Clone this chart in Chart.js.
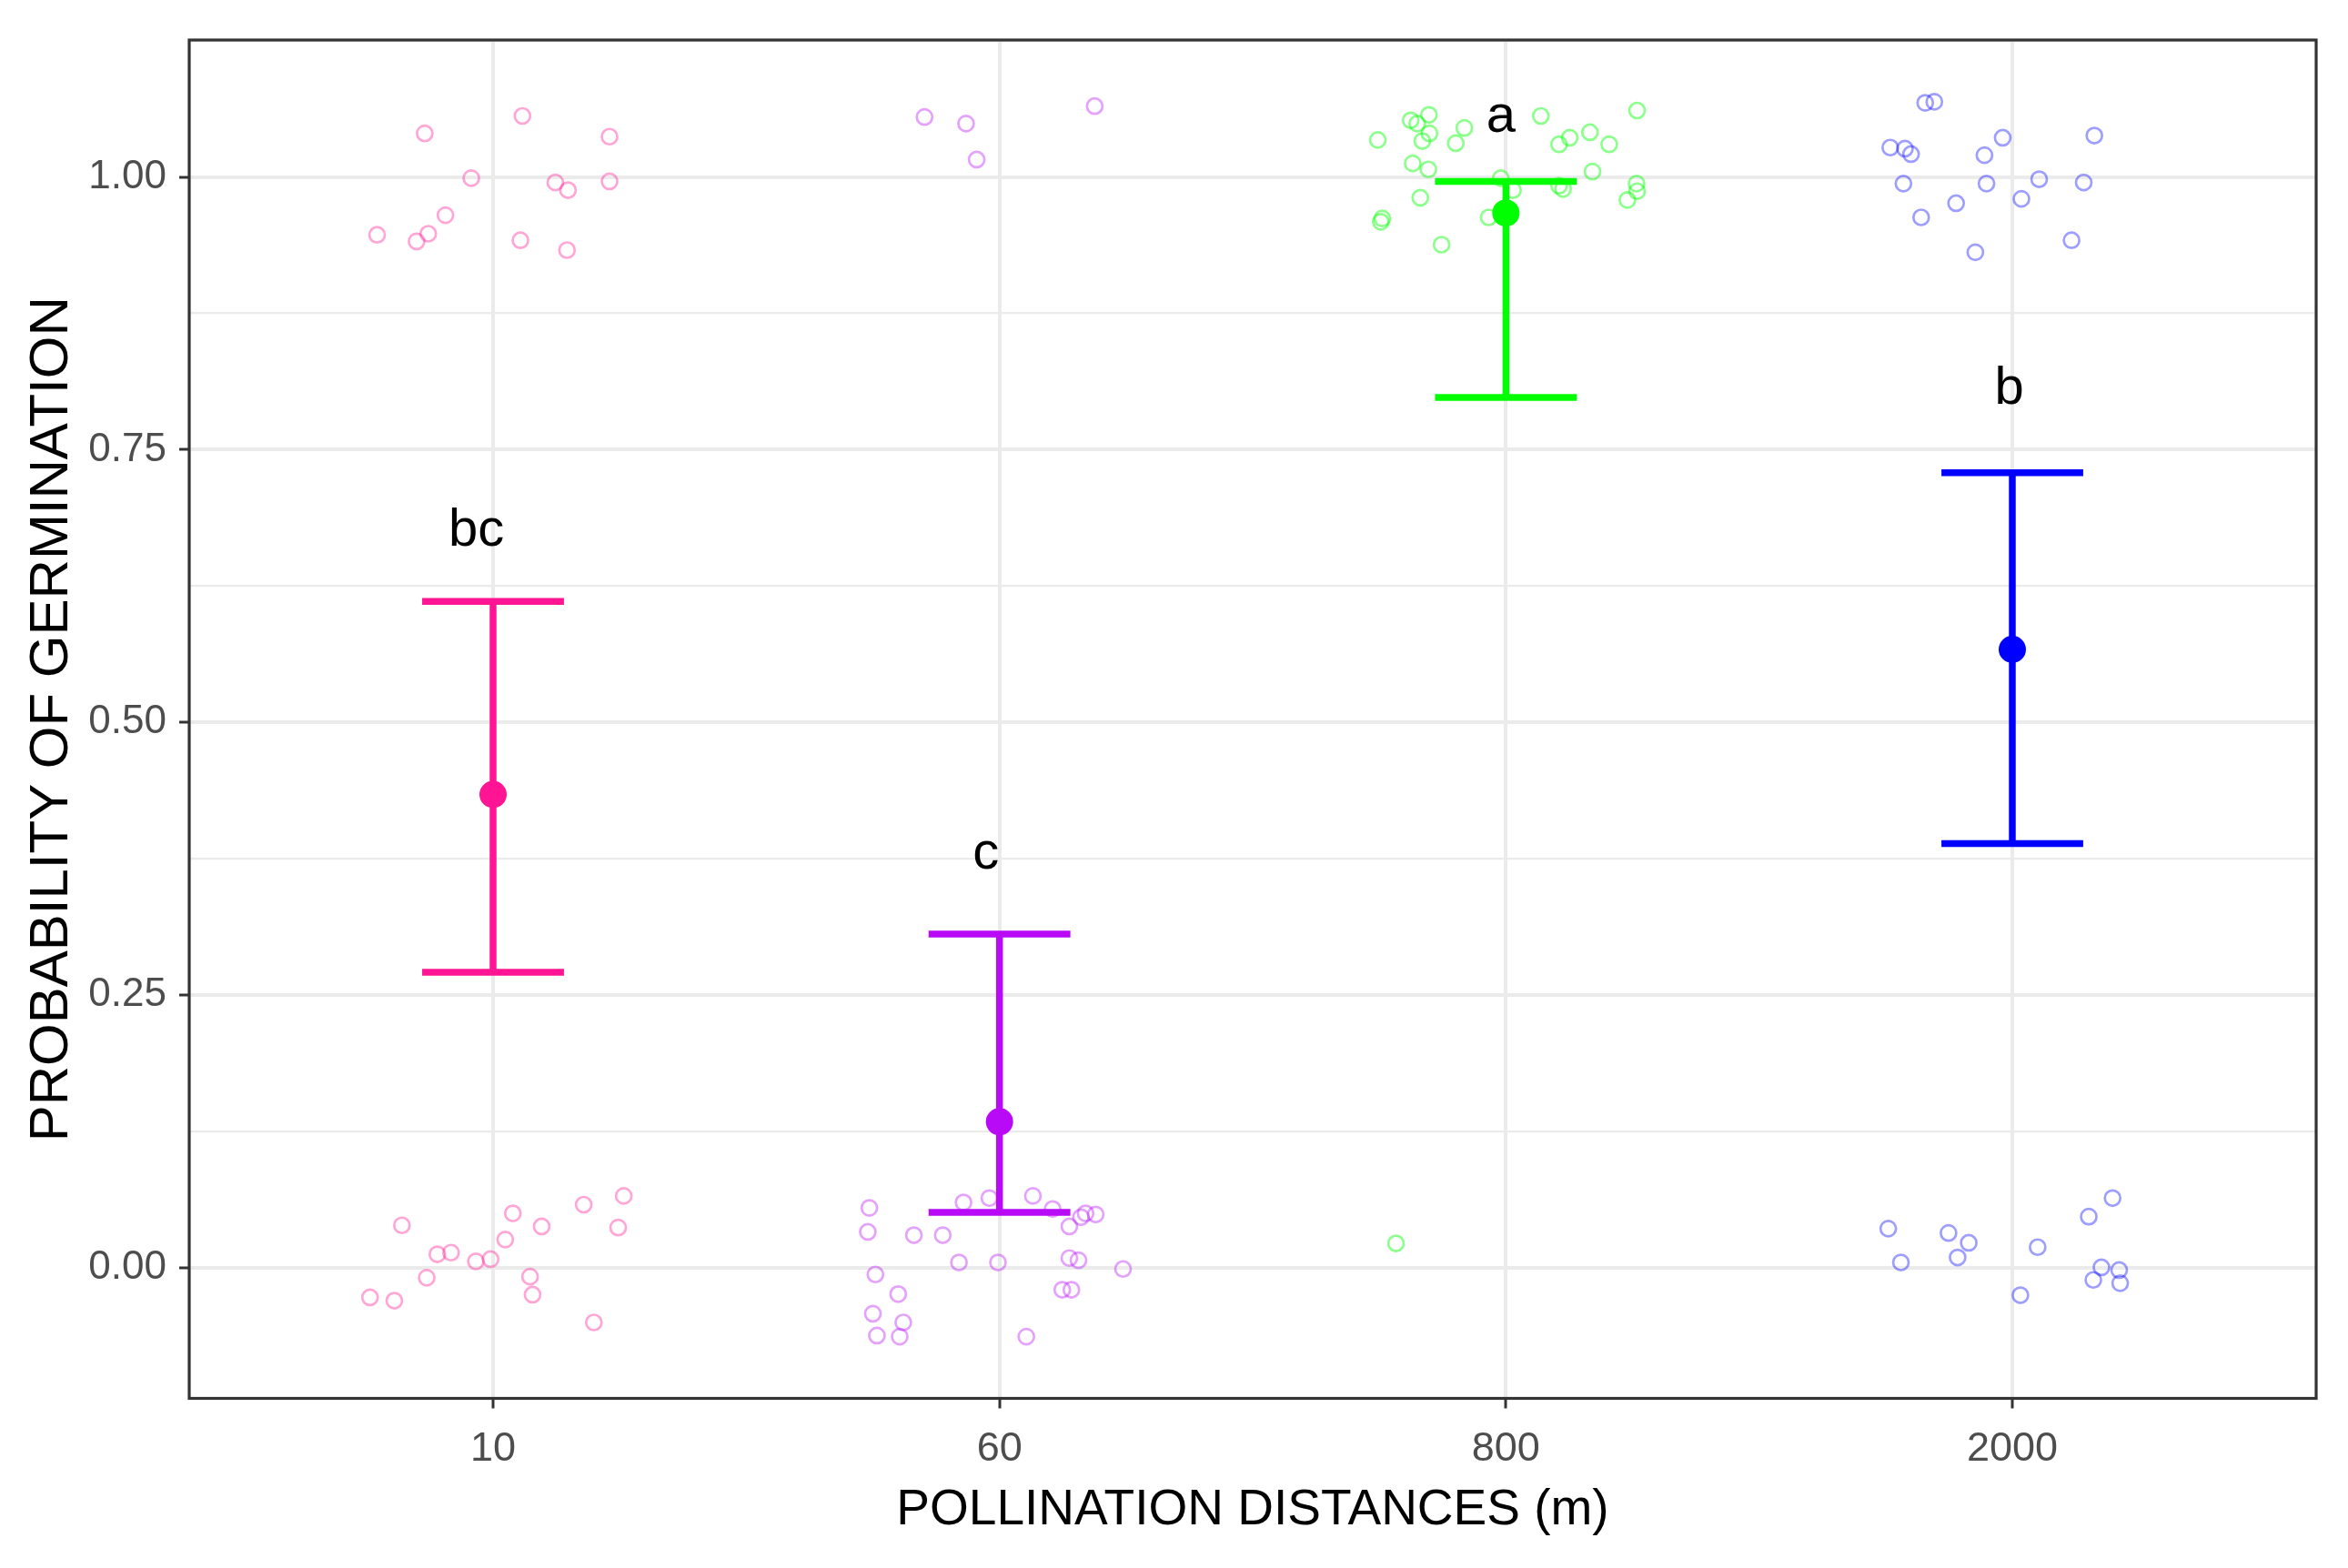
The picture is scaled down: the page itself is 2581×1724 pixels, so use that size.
<!DOCTYPE html>
<html>
<head>
<meta charset="utf-8">
<script src="https://cdn.jsdelivr.net/npm/chart.js@4.4.1/dist/chart.umd.min.js"></script>
<style>
  html, body { margin: 0; padding: 0; background: #fff; }
  #chart { display: block; }
</style>
</head>
<body>
<canvas id="chart" width="2581" height="1724"></canvas>
<script>
// groups on the x axis
const categories = ['10', '60', '800', '2000'];
const colors = ['#FF1493', '#B90AF7', '#00FF00', '#0000FF'];

// fitted probability with confidence interval
const means = [0.434, 0.134, 0.967, 0.567];
const lower = [0.271, 0.051, 0.798, 0.389];
const upper = [0.611, 0.306, 0.996, 0.729];

// significance letters
const letters = ['bc', 'c', 'a', 'b'];
const letterY = [0.662, 0.366, 1.041, 0.792];
const letterDx = [-0.033, -0.027, -0.01, -0.006];

// y axis ticks
const yTicks = [0, 0.25, 0.5, 0.75, 1];
const yTickLabels = ['0.00', '0.25', '0.50', '0.75', '1.00'];
const yMinor = [0.125, 0.375, 0.625, 0.875, 1.125];

// raw observations (jittered), offset from the group centre and y
const dx10 = [-0.135, 0.058, 0.230, -0.043, 0.123, 0.148, 0.230, -0.094, -0.229, -0.151, -0.128, 0.054, 0.146,
  -0.180, -0.110, -0.083, -0.034, -0.005, 0.024, 0.039, 0.096, 0.179, 0.258, 0.247, -0.131, -0.243, -0.195, 0.073, 0.078, 0.199];
const y10 = [1.040, 1.056, 1.037, 0.999, 0.995, 0.988, 0.996, 0.965, 0.947, 0.941, 0.948, 0.942, 0.933,
  0.039, 0.0125, 0.014, 0.006, 0.008, 0.026, 0.050, 0.038, 0.058, 0.066, 0.037, -0.009, -0.027, -0.030, -0.008, -0.0245, -0.050];

const dx60 = [-0.148, -0.066, -0.045, 0.188,
  -0.257, -0.260, -0.169, -0.112, -0.071, -0.020, 0.066, 0.105, 0.138, 0.161, 0.170, 0.190, -0.080, -0.003, 0.138, 0.156,
  0.244, -0.245, -0.200, -0.250, -0.190, -0.242, -0.197, 0.124, 0.142, 0.053];
const y60 = [1.055, 1.049, 1.016, 1.065,
  0.055, 0.033, 0.030, 0.030, 0.060, 0.064, 0.066, 0.054, 0.038, 0.0465, 0.050, 0.049, 0.005, 0.005, 0.009, 0.007,
  -0.001, -0.006, -0.024, -0.042, -0.050, -0.062, -0.063, -0.020, -0.020, -0.063];

const dx800 = [-0.253, -0.188, -0.175, -0.152, -0.151, -0.165, -0.082, -0.099, -0.184, -0.153, 0.069, 0.126, 0.105, 0.166, 0.204,
  0.259, 0.171, -0.010, 0.014, 0.105, 0.113, 0.258, 0.259, 0.240, -0.169, -0.244, -0.247, -0.034, -0.127, -0.217];
const y800 = [1.034, 1.052, 1.049, 1.057, 1.040, 1.033, 1.045, 1.031, 1.0125, 1.007, 1.056, 1.036, 1.030, 1.041, 1.030,
  1.061, 1.005, 0.999, 0.988, 0.992, 0.989, 0.994, 0.987, 0.979, 0.981, 0.962, 0.959, 0.963, 0.938, 0.0225];

const dx2000 = [-0.172, -0.154, -0.241, -0.212, -0.200, -0.019, -0.055, 0.162, -0.215, -0.051, 0.053, 0.141, 0.018, -0.111, -0.180,
  0.117, -0.073, -0.245, -0.220, -0.126, -0.086, -0.108, 0.016, 0.050, 0.151, 0.198, 0.176, 0.160, 0.211, 0.213];
const y2000 = [1.068, 1.069, 1.027, 1.026, 1.021, 1.036, 1.020, 1.038, 0.994, 0.994, 0.998, 0.995, 0.980, 0.976, 0.963,
  0.942, 0.931, 0.036, 0.005, 0.032, 0.023, 0.0096, -0.025, 0.019, 0.047, 0.064, 0.0005, -0.011, -0.002, -0.014];

const jitterX = [dx10, dx60, dx800, dx2000];
const jitterY = [y10, y60, y800, y2000];

const FONT = "'Liberation Sans', Arial, Helvetica, sans-serif";
const capHalf = 0.14;

function alpha(hex, a) {
  const n = parseInt(hex.slice(1), 16);
  return `rgba(${(n >> 16) & 255},${(n >> 8) & 255},${n & 255},${a})`;
}

const datasets = [];

// error bars and means on top
categories.forEach((c, i) => {
  const x = i + 1;
  const line = {
    type: 'scatter', showLine: true, pointRadius: 0, borderWidth: 7.5,
    borderColor: colors[i], borderCapStyle: 'butt', fill: false
  };
  datasets.push({ ...line, data: [{ x: x, y: lower[i] }, { x: x, y: upper[i] }] });
  datasets.push({ ...line, data: [{ x: x - capHalf, y: upper[i] }, { x: x + capHalf, y: upper[i] }] });
  datasets.push({ ...line, data: [{ x: x - capHalf, y: lower[i] }, { x: x + capHalf, y: lower[i] }] });
  datasets.push({
    type: 'scatter', data: [{ x: x, y: means[i] }], pointRadius: 15,
    backgroundColor: colors[i], borderWidth: 0
  });
});

categories.forEach((c, i) => {
  datasets.push({
    type: 'scatter',
    data: jitterX[i].map((d, k) => ({ x: i + 1 + d, y: jitterY[i][k] })),
    pointRadius: 8.5, borderWidth: 2.7,
    backgroundColor: 'rgba(0,0,0,0)',
    borderColor: alpha(colors[i], i === 2 ? 0.45 : 0.38)
  });
});

const isMajor = v => yTicks.some(t => Math.abs(t - v) < 1e-6);

const lettersPlugin = {
  id: 'letters',
  afterDatasetsDraw(chart) {
    const { ctx, scales: { x, y } } = chart;
    ctx.save();
    ctx.fillStyle = '#000';
    ctx.font = `58px ${FONT}`;
    ctx.textAlign = 'center';
    ctx.textBaseline = 'alphabetic';
    letters.forEach((t, i) => {
      ctx.fillText(t, x.getPixelForValue(i + 1 + letterDx[i]), y.getPixelForValue(letterY[i]));
    });
    ctx.restore();
  }
};

const panelBorder = {
  id: 'panelBorder',
  afterDraw(chart) {
    const { ctx, chartArea: a } = chart;
    ctx.save();
    ctx.strokeStyle = '#333333';
    ctx.lineWidth = 3.2;
    ctx.strokeRect(a.left, a.top, a.right - a.left, a.bottom - a.top);
    ctx.restore();
  }
};

new Chart(document.getElementById('chart'), {
  type: 'scatter',
  data: { datasets },
  options: {
    responsive: false,
    animation: false,
    devicePixelRatio: 1,
    layout: { padding: { top: 44, right: 35, left: 0, bottom: 0 } },
    plugins: { legend: { display: false }, tooltip: { enabled: false } },
    scales: {
      x: {
        type: 'linear', min: 0.4, max: 4.6,
        afterBuildTicks: s => { s.ticks = categories.map((c, i) => ({ value: i + 1 })); },
        afterFit: s => { s.height = 186.5; },
        border: { display: false },
        grid: { color: '#EBEBEB', lineWidth: 4, tickLength: 11, tickColor: '#333333', tickWidth: 3 },
        ticks: {
          autoSkip: false, maxRotation: 0, padding: 18, color: '#4D4D4D',
          font: { family: FONT, size: 45 },
          callback: v => categories[Math.round(v) - 1]
        },
        title: {
          display: true, text: 'POLLINATION DISTANCES (m)', color: '#000',
          font: { family: FONT, size: 55, lineHeight: 1 }, padding: { top: 0, bottom: 36 }
        }
      },
      y: {
        min: -0.1196, max: 1.1256,
        afterBuildTicks: s => {
          s.ticks = yTicks.concat(yMinor).sort((a, b) => a - b).map(v => ({ value: v }));
        },
        afterFit: s => { s.width = 208; },
        border: { display: false },
        grid: {
          color: '#EBEBEB',
          lineWidth: c => (c.tick && !isMajor(c.tick.value) ? 2.2 : 4),
          tickLength: 11,
          tickColor: c => (c.tick && !isMajor(c.tick.value) ? 'rgba(0,0,0,0)' : '#333333'),
          tickWidth: 3
        },
        ticks: {
          autoSkip: false, padding: 14, color: '#4D4D4D',
          font: { family: FONT, size: 44 },
          callback: v => {
            const k = yTicks.findIndex(t => Math.abs(t - v) < 1e-6);
            return k >= 0 ? yTickLabels[k] : '';
          }
        },
        title: {
          display: true, text: 'PROBABILITY OF GERMINATION', color: '#000',
          font: { family: FONT, size: 60, lineHeight: 1 }, padding: { top: 27, bottom: 0 }
        }
      }
    }
  },
  plugins: [lettersPlugin, panelBorder]
});
</script>
</body>
</html>
